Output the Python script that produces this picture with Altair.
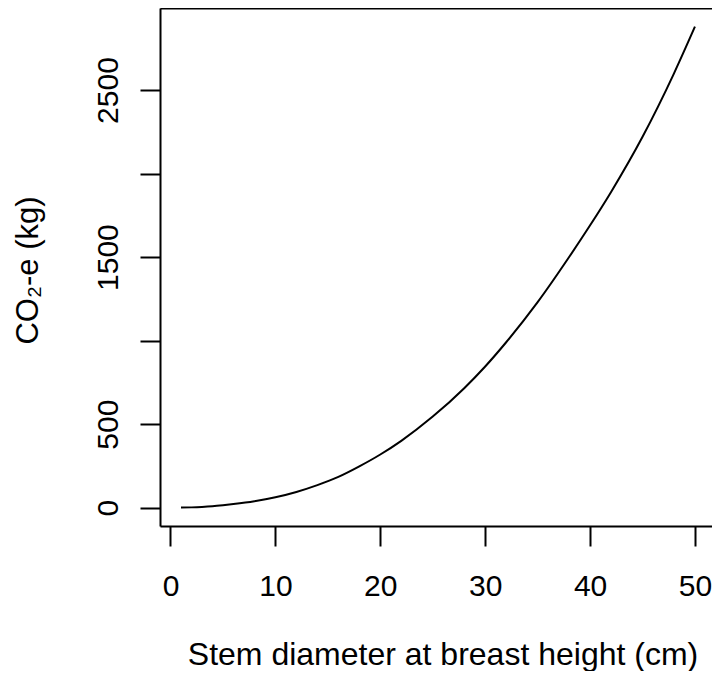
import altair as alt
import pandas as pd

# Values
dbh = [1, 2, 3, 4, 5, 6, 8, 10, 12, 14, 16, 18, 20, 22, 25, 28, 30, 32, 35, 38, 40, 42, 45, 48, 50]
co2 = [0.3, 1.5, 4, 8, 14, 21, 38, 62, 94, 135, 184, 247, 318, 400, 545, 715, 845,
       990, 1230, 1500, 1690, 1890, 2220, 2600, 2880]

x_ticks = [0, 10, 20, 30, 40, 50]
y_ticks = [0, 500, 1000, 1500, 2000, 2500]

df = pd.DataFrame({"dbh": dbh, "co2": co2})

FONT = "Liberation Sans"
x_scale = alt.Scale(domain=[-1.0, 51.62], nice=False, zero=False)
y_scale = alt.Scale(domain=[-110, 2991], nice=False, zero=False)

base = alt.Chart(df)

main = base.mark_line(color="black", strokeWidth=2, interpolate="monotone").encode(
    x=alt.X("dbh:Q", scale=x_scale,
            axis=alt.Axis(title="Stem diameter at breast height (cm)", values=x_ticks,
                          grid=False, domainColor="black", domainWidth=2,
                          tickColor="black", tickWidth=2, tickSize=20,
                          labelPadding=49, labelBaseline="alphabetic",
                          labelFont=FONT, labelFontSize=30, labelColor="black",
                          labelFlush=False, labelOverlap=False,
                          titleFont=FONT, titleFontSize=32, titleFontWeight="normal",
                          titleColor="black", titleBaseline="alphabetic",
                          titleX=282.5, titleY=138, titleAlign="center")),
    y=alt.Y("co2:Q", scale=y_scale,
            axis=alt.Axis(title="CO₂-e (kg)", values=y_ticks, format="d",
                          labelExpr="(datum.value == 0 || datum.value % 1000 == 500) ? datum.label : ''",
                          grid=False, domainColor="black", domainWidth=2,
                          tickColor="black", tickWidth=2, tickSize=20,
                          labelPadding=23, labelAngle=270, labelAlign="center",
                          labelBaseline="alphabetic", labelFlush=False, labelOverlap=False,
                          labelFont=FONT, labelFontSize=30, labelColor="black",
                          titleFont=FONT, titleFontSize=31, titleFontWeight="normal",
                          titleColor="black", titleAngle=270, titleAlign="center",
                          titleBaseline="alphabetic", titleX=-123, titleY=262)),
)

frame = base.mark_line(opacity=0).encode(
    x=alt.X("dbh:Q", scale=x_scale,
            axis=alt.Axis(orient="top", title=None, labels=False, ticks=False, grid=False,
                          domainColor="black", domainWidth=2)),
    y=alt.Y("co2:Q", scale=y_scale,
            axis=alt.Axis(orient="right", title=None, labels=False, ticks=False, grid=False,
                          domainColor="#e4e4e4", domainWidth=1)),
)

chart = alt.layer(main, frame).resolve_axis(x="independent", y="independent").properties(
    width=552, height=518,
    autosize=alt.AutoSizeParams(type="none"),
    padding={"left": 152, "top": 0, "right": 0, "bottom": 145},
).configure_view(stroke=None).configure(background="white")

chart.save("out.html", embed_options={"renderer": "svg", "actions": False})
